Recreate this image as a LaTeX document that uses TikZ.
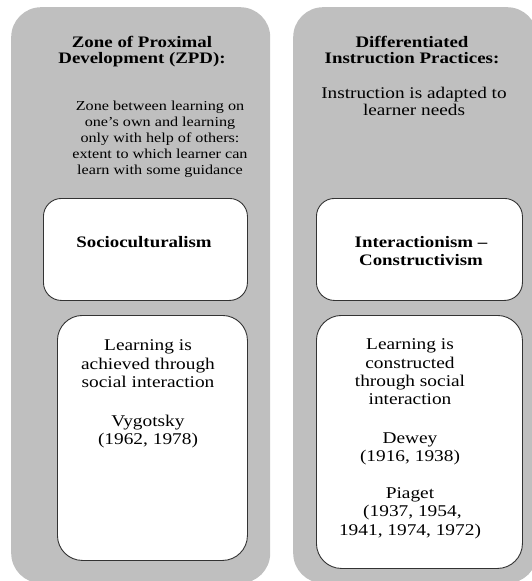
\documentclass[tikz,border=0pt]{standalone}
\usepackage{fontspec}
\setmainfont{Liberation Serif}[FakeStretch=1.18]
\definecolor{panelgray}{RGB}{191,191,191}

\begin{document}
\begin{tikzpicture}[x=1pt,y=-1pt,
  panel/.style={fill=panelgray, rounded corners=30pt, inner sep=0pt, anchor=north west},
  box/.style={draw=black!80, line width=0.9pt, fill=white, rounded corners=#1, inner sep=0pt, anchor=north west},
  txt/.style={align=center, inner sep=0pt, font=\fontsize{16.4}{18.5}\selectfont},
  head/.style={align=center, inner sep=0pt, font=\fontsize{16}{16}\selectfont\bfseries}]
\useasboundingbox (0,0) rectangle (532,581);
\clip (0,0) rectangle (532,581);

% the two grey columns
\node[panel, minimum width=259pt, minimum height=576pt] (zpdcol) at (11,7) {};
\node[panel, minimum width=244pt, minimum height=576pt] (diffcol) at (293,7) {};

% white boxes
\node[box=18pt, minimum width=204pt, minimum height=102pt] (sociobox) at (43,198) {};
\node[box=18pt, minimum width=206pt, minimum height=102pt] (interbox) at (316,198) {};
\node[box=25pt, minimum width=190pt, minimum height=245pt] (vygbox) at (57,315) {};
\node[box=25pt, minimum width=206pt, minimum height=253pt] (deweybox) at (316,315) {};

% left column texts
\node[head, anchor=north] (zpdhead) at (142,36) {Zone of Proximal\\Development (ZPD):};
\node[align=center, inner sep=0pt, anchor=north, font=\fontsize{13.7}{16}\selectfont] (zpdtext) at (160,100.6)
  {Zone between learning on\\one’s own and learning\\only with help of others:\\extent to which learner can\\learn with some guidance};
\node[head, anchor=base] (socio) at (144,247) {Socioculturalism};
\node[txt, anchor=north] (vygtext) at (148,339.8)
  {Learning is\\achieved through\\social interaction\\[20pt]Vygotsky\\(1962, 1978)};

% right column texts
\node[head, anchor=north] (diffhead) at (412,36) {Differentiated\\Instruction Practices:};
\node[align=center, inner sep=0pt, anchor=north, font=\fontsize{16.3}{17}\selectfont] (difftext) at (414,86.9)
  {Instruction is adapted to\\learner needs};
\node[head, anchor=north, font=\fontsize{16}{18}\selectfont\bfseries] (inter) at (421,236.4) {Interactionism –\\Constructivism};
\node[txt, anchor=north, font=\fontsize{16.4}{18.3}\selectfont] (deweytext) at (410,338.8)
  {Learning is\\constructed\\through social\\interaction\\[20pt]Dewey\\(1916, 1938)\\[19pt]Piaget\\\ (1937, 1954,\\1941, 1974, 1972)};
\end{tikzpicture}
\end{document}
